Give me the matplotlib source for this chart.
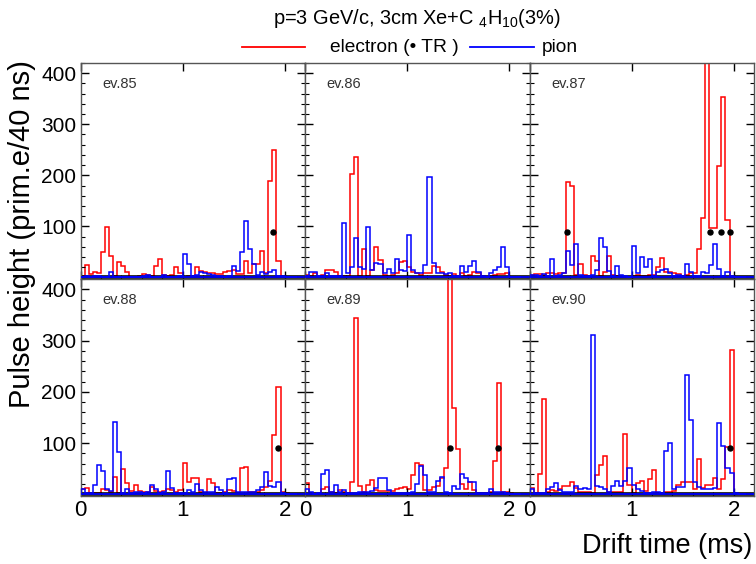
import numpy as np
import matplotlib
matplotlib.use('Agg')
import matplotlib.pyplot as plt
from matplotlib import font_manager
from matplotlib.lines import Line2D
from matplotlib.ticker import MultipleLocator, FixedLocator

names = {f.name for f in font_manager.fontManager.ttflist}
base = 'Liberation Sans' if 'Liberation Sans' in names else 'DejaVu Sans'
narrow = 'Liberation Sans Narrow' if 'Liberation Sans Narrow' in names else base
plt.rcParams['font.family'] = [base, 'DejaVu Sans']
plt.rcParams['mathtext.default'] = 'regular'

# ---------------- data (prim.e / 40 ns, bins of 0.04 us) ----------------
bin_width = 0.04
events = ['ev.85', 'ev.86', 'ev.87', 'ev.88', 'ev.89', 'ev.90']

ev85_red = [3, 24, 6, 10, 8, 50, 98, 42, 3, 30, 22, 10, 0, 0, 2, 7, 4, 2, 22, 36, 4, 2, 5, 20, 8, 1, 2,
            3, 20, 12, 10, 8, 9, 7, 6, 10, 12, 14, 7, 6, 32, 9, 26, 27, 52, 8, 188, 250, 33, 2, 1, 0, 0]
ev85_blue = [1, 2, 1, 3, 3, 1, 1, 11, 1, 1, 1, 1, 1, 1, 1, 2, 5, 1, 1, 1, 5, 1, 1, 1, 2, 46, 27,
             2, 4, 10, 8, 7, 4, 2, 2, 1, 3, 22, 12, 50, 111, 56, 27, 4, 11, 6, 10, 15, 3, 2, 1, 1, 1]

ev86_red = [5, 3, 8, 1, 4, 15, 15, 10, 3, 3, 3, 203, 235, 3, 56, 3, 14, 59, 34, 4, 3, 4, 8, 30, 32, 21,
            11, 8, 4, 8, 8, 23, 21, 11, 4, 3, 6, 3, 8, 3, 5, 10, 8, 3, 1, 3, 5, 6, 6, 8, 1, 0, 0]
ev86_blue = [3, 11, 11, 3, 3, 8, 3, 3, 3, 106, 9, 21, 78, 21, 17, 99, 14, 28, 27, 8, 16, 8, 37, 14, 13, 83,
             14, 9, 9, 24, 197, 28, 9, 8, 6, 8, 3, 3, 23, 11, 23, 32, 11, 3, 1, 8, 14, 21, 59, 21, 1, 0, 0]

ev87_red = [5, 6, 6, 4, 8, 8, 6, 8, 8, 187, 179, 4, 27, 4, 2, 43, 32, 3, 11, 43, 5, 3, 1, 1, 1, 3,
            5, 3, 3, 5, 5, 21, 39, 11, 11, 8, 6, 3, 5, 8, 9, 56, 116, 480, 97, 97, 218, 353, 113, 1, 0, 0, 0]
ev87_blue = [5, 5, 3, 6, 3, 36, 3, 5, 8, 52, 24, 65, 4, 3, 3, 4, 14, 77, 59, 13, 3, 23, 4, 3, 1, 61,
             8, 40, 21, 37, 3, 11, 14, 17, 8, 3, 5, 3, 26, 11, 3, 3, 11, 8, 24, 65, 17, 3, 11, 3, 1, 0, 0]

ev88_red = [10, 13, 3, 3, 3, 11, 8, 5, 34, 3, 50, 23, 6, 19, 7, 5, 5, 15, 7, 5, 7, 11, 8, 5, 8, 62,
            25, 32, 32, 5, 3, 31, 22, 3, 3, 5, 8, 6, 3, 51, 53, 5, 4, 5, 8, 15, 27, 115, 210, 5, 2, 0, 0]
ev88_blue = [11, 3, 3, 19, 57, 46, 10, 7, 141, 82, 3, 10, 3, 5, 5, 3, 5, 18, 10, 3, 5, 45, 13, 3, 3, 3,
             8, 5, 20, 8, 5, 5, 5, 15, 8, 3, 31, 32, 5, 5, 5, 5, 5, 8, 15, 43, 17, 15, 25, 3, 1, 0, 0]

ev89_red = [23, 3, 0, 0, 10, 15, 5, 3, 8, 5, 3, 25, 344, 17, 5, 18, 29, 8, 6, 6, 7, 7, 10, 13, 15, 10,
            38, 61, 57, 8, 8, 15, 17, 32, 51, 480, 168, 89, 21, 10, 25, 8, 2, 2, 2, 5, 66, 218, 5, 5, 2, 0, 0]
ev89_blue = [10, 5, 0, 2, 39, 48, 5, 19, 5, 8, 2, 2, 2, 4, 4, 5, 6, 13, 32, 32, 8, 2, 2, 2, 2, 2,
             5, 21, 55, 37, 5, 5, 27, 34, 5, 2, 17, 11, 40, 32, 25, 24, 2, 2, 2, 10, 5, 5, 4, 2, 1, 0, 0]

ev90_red = [13, 3, 40, 187, 5, 8, 7, 11, 17, 17, 24, 13, 5, 5, 5, 3, 37, 57, 74, 5, 5, 5, 5, 117, 18, 3,
            23, 27, 7, 31, 48, 3, 2, 5, 4, 6, 18, 25, 24, 25, 11, 69, 13, 18, 19, 32, 10, 30, 92, 282, 2, 0, 0]
ev90_blue = [11, 3, 3, 3, 10, 15, 23, 8, 5, 5, 5, 17, 10, 13, 10, 310, 17, 15, 11, 5, 17, 27, 17, 27, 51, 18,
             10, 6, 3, 3, 5, 5, 3, 85, 101, 10, 15, 15, 233, 145, 24, 15, 10, 11, 11, 13, 140, 94, 51, 42, 2, 0, 0]

# TR cluster markers (drift time, height)
ev85_tr_x, ev85_tr_y = [1.886], [90]
ev86_tr_x, ev86_tr_y = [], []
ev87_tr_x, ev87_tr_y = [0.368, 1.766, 1.88, 1.965], [90, 90, 90, 90]
ev88_tr_x, ev88_tr_y = [1.935], [90]
ev89_tr_x, ev89_tr_y = [1.417, 1.896], [90, 90]
ev90_tr_x, ev90_tr_y = [1.965], [90]

red_series = [ev85_red, ev86_red, ev87_red, ev88_red, ev89_red, ev90_red]
blue_series = [ev85_blue, ev86_blue, ev87_blue, ev88_blue, ev89_blue, ev90_blue]
tr_x = [ev85_tr_x, ev86_tr_x, ev87_tr_x, ev88_tr_x, ev89_tr_x, ev90_tr_x]
tr_y = [ev85_tr_y, ev86_tr_y, ev87_tr_y, ev88_tr_y, ev89_tr_y, ev90_tr_y]

x_ticks = [0, 1, 2]
y_ticks = [100, 200, 300, 400]

title = 'p=3 GeV/c, 3cm Xe+C $_4$H$_{10}$(3%)'
legend_labels = ['electron (\u2022 TR )', 'pion']
ylabel = 'Pulse height (prim.e/40 ns)'
xlabel = 'Drift time (ms)'

# ---------------- layout ----------------
W, H = 756, 564
fig = plt.figure(figsize=(W / 100, H / 100), dpi=100)

col_x = [80.5, 305.0, 529.5]
col_w = 224.5
rows = [(63.0, 279.0), (279.0, 496.0)]

RED = '#ff0000'
BLUE = '#0000ff'

for i in range(6):
    r, c = divmod(i, 3)
    ytop, ybot = rows[r]
    ax = fig.add_axes([col_x[c] / W, 1 - ybot / H, col_w / W, (ybot - ytop) / H])
    red = np.asarray(red_series[i], float)
    blue = np.asarray(blue_series[i], float)
    edges = np.arange(len(red) + 1) * bin_width
    ax.stairs(red, edges, color=RED, lw=1.1, baseline=0)
    ax.axhline(0, color='black', lw=2.6, zorder=2)
    ax.stairs(blue, edges, color=BLUE, lw=1.1, baseline=0, zorder=3)
    ax.axhline(0, color=BLUE, lw=1.3, zorder=3)
    if tr_x[i]:
        ax.plot(tr_x[i], tr_y[i], 'o', color='black', ms=3.6, zorder=4)
    ax.set_xlim(0, 2.2)
    ax.set_ylim(-3, 420)
    ax.xaxis.set_major_locator(FixedLocator(x_ticks))
    ax.xaxis.set_minor_locator(MultipleLocator(0.2))
    ax.yaxis.set_major_locator(FixedLocator(y_ticks))
    ax.yaxis.set_minor_locator(MultipleLocator(20))
    ax.tick_params(which='both', direction='in', top=True, right=True, color='black')
    ax.tick_params(which='major', length=6, width=1.0)
    ax.tick_params(which='minor', length=3, width=0.8, top=False)
    ax.tick_params(axis='y', labelsize=15, pad=3)
    ax.tick_params(axis='x', labelsize=16, pad=3)
    for sp in ax.spines.values():
        sp.set_color('#555555')
        sp.set_linewidth(1.0)
    if c != 0:
        ax.tick_params(labelleft=False)
    if r == 0:
        ax.tick_params(labelbottom=False)
    for lab in ax.get_xticklabels():
        lab.set_fontfamily([narrow, base])
    for lab in ax.get_yticklabels():
        lab.set_fontfamily([narrow, base])
    ax.text(0.096, 0.905, events[i], transform=ax.transAxes, fontsize=10.5,
            color='#333333', ha='left', va='center')

# title and legend
fig.text(417 / W, 1 - 19 / H, title, ha='center', va='center', fontsize=14.4)
ly = 1 - 47 / H
fig.add_artist(Line2D([242 / W, 305 / W], [ly, ly], color=RED, lw=1.3, transform=fig.transFigure))
fig.text(330 / W, ly, legend_labels[0], ha='left', va='center', fontsize=13.8)
fig.add_artist(Line2D([470 / W, 534 / W], [ly, ly], color=BLUE, lw=1.3, transform=fig.transFigure))
fig.text(542 / W, ly, legend_labels[1], ha='left', va='center', fontsize=13.8)

# axis titles
fig.text(22 / W, 1 - 234 / H, ylabel, rotation=90, ha='center', va='center', fontsize=21)
fig.text(752 / W, 1 - 546 / H, xlabel, ha='right', va='center', fontsize=19.5,
         fontfamily=[narrow, base])

fig.savefig('out.png', dpi=100)
